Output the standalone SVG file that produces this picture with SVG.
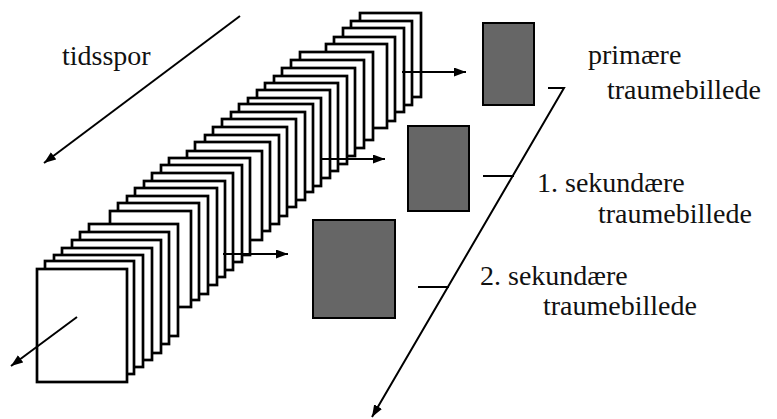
<svg xmlns="http://www.w3.org/2000/svg" width="777" height="419" viewBox="0 0 777 419">
<style>
.fr{fill:#fff;stroke:#000;stroke-width:2.7}
.gb{fill:#666;stroke:#000;stroke-width:2}
.ln{fill:none;stroke:#000;stroke-width:2}
.tx{font-family:"Liberation Serif","Times New Roman",serif;font-size:28px;fill:#111}
</style>
<defs>
<marker id="ah" markerUnits="userSpaceOnUse" markerWidth="13" markerHeight="10" refX="12" refY="4.5" orient="auto">
<path d="M0,0 L12,4.5 L0,9 z" fill="#000"/>
</marker>
</defs>
<rect width="777" height="419" fill="#fff"/>
<g id="stack">
<g id="groupD">
<rect class="fr" x="360" y="13" width="61" height="84"/>
<rect class="fr" x="351" y="21" width="61" height="84"/>
<rect class="fr" x="343" y="28" width="61" height="84"/>
<rect class="fr" x="334" y="37" width="61" height="84"/>
<rect class="fr" x="326" y="44" width="61" height="84"/>
</g>
<g id="groupC">
<rect class="fr" x="300" y="52" width="73" height="88"/>
<rect class="fr" x="291" y="60" width="73" height="88"/>
<rect class="fr" x="282" y="68" width="73" height="88"/>
<rect class="fr" x="274" y="76" width="73" height="88"/>
<rect class="fr" x="265" y="83" width="73" height="88"/>
<rect class="fr" x="257" y="90" width="73" height="88"/>
<rect class="fr" x="248" y="98" width="73" height="88"/>
<rect class="fr" x="239" y="104" width="74" height="88"/>
<rect class="fr" x="231" y="112" width="74" height="88"/>
<rect class="fr" x="222" y="119" width="74" height="88"/>
<rect class="fr" x="213" y="127" width="74" height="89"/>
<rect class="fr" x="205" y="135" width="74" height="89"/>
<rect class="fr" x="195" y="142" width="75" height="89"/>
<rect class="fr" x="187" y="151" width="75" height="89"/>
</g>
<g id="groupB">
<rect class="fr" x="169" y="158" width="81" height="97"/>
<rect class="fr" x="161" y="165" width="81" height="97"/>
<rect class="fr" x="152" y="173" width="81" height="97"/>
<rect class="fr" x="144" y="181" width="81" height="96"/>
<rect class="fr" x="135" y="188" width="82" height="97"/>
<rect class="fr" x="127" y="196" width="81" height="98"/>
<rect class="fr" x="118" y="203" width="81" height="97"/>
<rect class="fr" x="110" y="211" width="81" height="96"/>
</g>
<g id="groupA">
<rect class="fr" x="89" y="224" width="89" height="112"/>
<rect class="fr" x="80" y="232" width="89" height="112"/>
<rect class="fr" x="72" y="240" width="89" height="113"/>
<rect class="fr" x="62" y="248" width="90" height="112"/>
<rect class="fr" x="54" y="255" width="89" height="112"/>
<rect class="fr" x="45" y="261" width="89" height="113"/>
<rect class="fr" x="37" y="269" width="90" height="113"/>
</g>
</g>
<g id="box-primary"><rect class="gb" x="483" y="23" width="51" height="82"/></g>
<g id="box-secondary1"><rect class="gb" x="408" y="126" width="61" height="85"/></g>
<g id="box-secondary2"><rect class="gb" x="313" y="220" width="82" height="98"/></g>
<g id="connectors">
<line class="ln" x1="240" y1="16" x2="44" y2="163" marker-end="url(#ah)"/>
<line class="ln" x1="77" y1="317" x2="11" y2="366" marker-end="url(#ah)"/>
<line class="ln" x1="402" y1="72" x2="466" y2="72" marker-end="url(#ah)"/>
<line class="ln" x1="322" y1="159" x2="385" y2="159" marker-end="url(#ah)"/>
<line class="ln" x1="223" y1="254" x2="288" y2="254" marker-end="url(#ah)"/>
<polyline class="ln" points="548,88 564,88 372,417" marker-end="url(#ah)"/>
<line class="ln" x1="483" y1="176" x2="514" y2="176"/>
<line class="ln" x1="418" y1="287" x2="449" y2="287"/>
</g>
<g id="labels">
<text class="tx" x="62" y="65">tidsspor</text>
<text class="tx" x="588" y="64">primære</text>
<text class="tx" x="607" y="99">traumebillede</text>
<text class="tx" x="537" y="192">1. sekundære</text>
<text class="tx" x="598" y="223">traumebillede</text>
<text class="tx" x="480" y="285">2. sekundære</text>
<text class="tx" x="543" y="315">traumebillede</text>
</g>
</svg>
